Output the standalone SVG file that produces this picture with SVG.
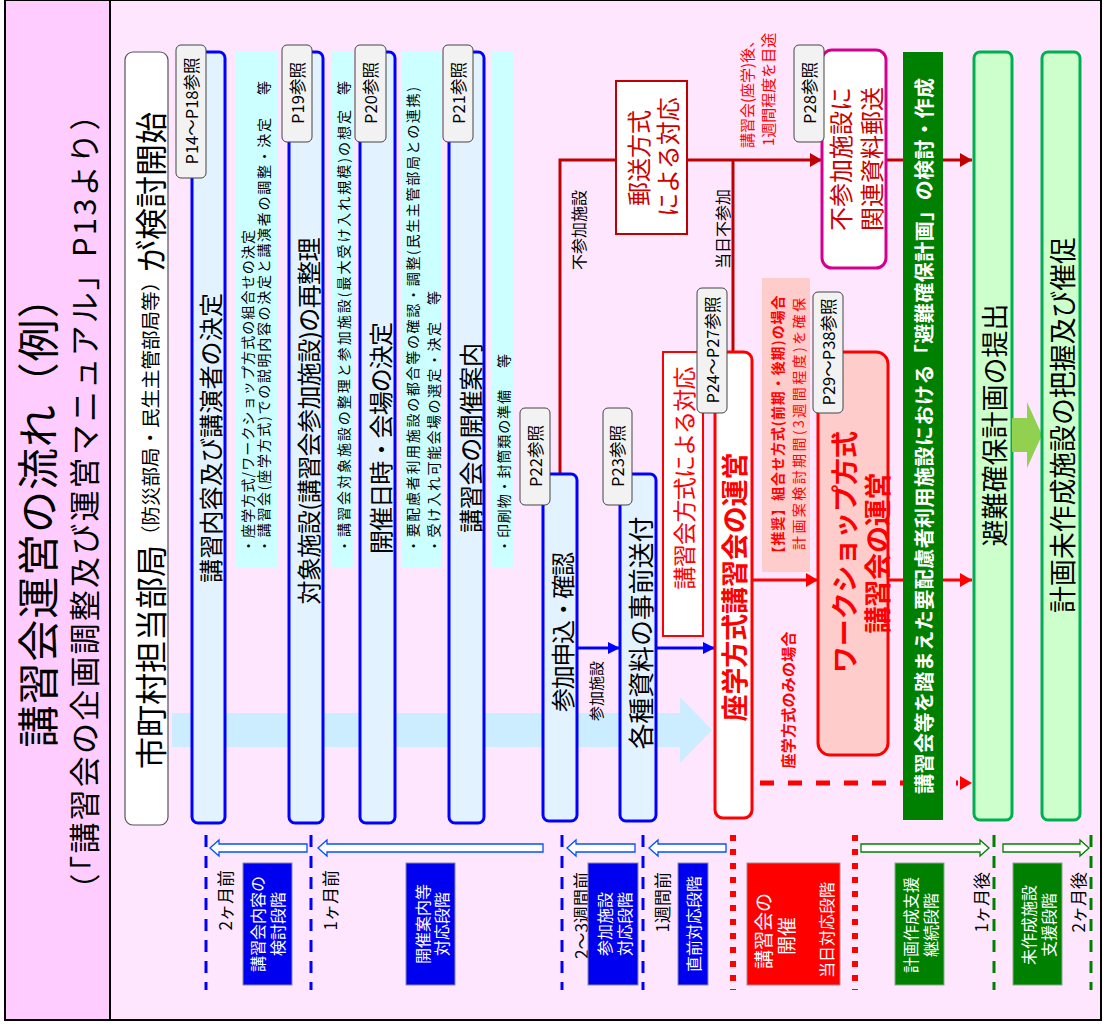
<svg xmlns="http://www.w3.org/2000/svg" width="1103" height="1033" viewBox="0 0 1103 1033">
<style>
.t{font-family:"Noto Sans CJK JP","Noto Sans",sans-serif;dominant-baseline:central;}
.m{text-anchor:middle}
.s{text-anchor:start}
.e{text-anchor:end}
.b{font-weight:bold}
.blue{fill:#E3F2FF;stroke:#0000FF;stroke-width:3}
.cyan{fill:#CCFFFF}
.tag{fill:#F2F2F2;stroke:#444;stroke-width:1}
.dr{stroke:#C00000;stroke-width:3;fill:none}
.rr{stroke:#FF0000;stroke-width:3;fill:none}
.bl{stroke:#0000FF;stroke-width:3;fill:none}
.pg{fill:#CCFFCC;stroke:#00B050;stroke-width:3}
.hb{fill:#fff;stroke:#0050FF;stroke-width:1.3}
.hg{fill:#fff;stroke:#008000;stroke-width:1.3}
.vb{stroke:#0000FF;stroke-width:3;stroke-dasharray:12 9}
.vg{stroke:#008000;stroke-width:3;stroke-dasharray:12 9}
.vr{stroke:#FF0000;stroke-width:6;stroke-dasharray:6 8}
</style>
<defs>
<marker id="aDR" viewBox="0 0 12 14" refX="12" refY="7" markerWidth="12" markerHeight="14" markerUnits="userSpaceOnUse" orient="auto"><path d="M0,0 L12,7 L0,14 z" fill="#C00000"/></marker>
<marker id="aR" viewBox="0 0 12 14" refX="12" refY="7" markerWidth="12" markerHeight="14" markerUnits="userSpaceOnUse" orient="auto"><path d="M0,0 L12,7 L0,14 z" fill="#FF0000"/></marker>
<marker id="aB" viewBox="0 0 12 12" refX="12" refY="6" markerWidth="12" markerHeight="12" markerUnits="userSpaceOnUse" orient="auto"><path d="M0,0 L12,6 L0,12 z" fill="#0000FF"/></marker>
</defs>

<g id="frame">
<rect x="5" y="0" width="1096" height="1020" fill="#FFE6FF" stroke="#000" stroke-width="2"/>
<rect x="5" y="0" width="105" height="1020" fill="#FFCCFF" stroke="#000" stroke-width="2"/>
</g>

<g id="title">
<text class="t m" font-size="42" textLength="471" transform="translate(35,512) rotate(-90)">講習会運営の流れ（例）</text>
<text class="t m" font-size="31" textLength="805" transform="translate(82,502) rotate(-90)">（「講習会の企画調整及び運営マニュアル」P13より）</text>
</g>

<g id="bigarrow">
<polygon points="172,713 680,713 680,697 712,730 680,763 680,747 172,747" fill="#CCECFF"/>
</g>

<g id="connectors">
<path class="dr" d="M560,474 V160 H616"/>
<line class="dr" x1="687" y1="160" x2="822" y2="160" marker-end="url(#aDR)"/>
<line class="dr" x1="733" y1="160" x2="733" y2="352"/>
<line class="dr" x1="886" y1="160" x2="972" y2="160" marker-end="url(#aDR)"/>
<line class="rr" x1="752" y1="580" x2="818" y2="580" marker-end="url(#aR)"/>
<line class="rr" x1="888" y1="580" x2="972" y2="580" marker-end="url(#aR)"/>
<line stroke="#FF0000" stroke-width="5" stroke-dasharray="14 14" x1="760" y1="783" x2="958" y2="783"/>
<polygon points="960,776 972,783 960,790" fill="#FF0000"/>
<line class="bl" x1="577" y1="648" x2="620" y2="648" marker-end="url(#aB)"/>
<line class="bl" x1="655" y1="648" x2="715" y2="648" marker-end="url(#aB)"/>
<text class="t m" font-size="16" transform="translate(578,230) rotate(-90)">不参加施設</text>
<text class="t m" font-size="16" transform="translate(722,229) rotate(-90)">当日不参加</text>
<text class="t m" font-size="15" transform="translate(595,691) rotate(-90)">参加施設</text>
<text class="t s" font-size="15" fill="#FF0000" transform="translate(746,148) rotate(-90)">講習会(座学)後、</text>
<text class="t s" font-size="15" fill="#FF0000" transform="translate(767,146) rotate(-90)">1週間程度を目途</text>
<text class="t m b" font-size="15" fill="#FF0000" textLength="137" transform="translate(787,700) rotate(-90)">座学方式のみの場合</text>
</g>

<g id="n-city">
<rect x="125" y="52" width="43" height="773" rx="8" fill="#fff" stroke="#555" stroke-width="1.2"/>
<text class="t s" transform="translate(149,769) rotate(-90)"><tspan font-size="32">市町村担当部局</tspan><tspan font-size="19.5">（防災部局・民生主管部局等）</tspan><tspan font-size="32">が検討開始</tspan></text>
</g>

<g id="n-content">
<rect class="blue" x="192" y="52" width="33" height="771" rx="6"/>
<text class="t m" font-size="24" textLength="290" transform="translate(209,438) rotate(-90)">講習内容及び講演者の決定</text>
<rect class="tag" x="176" y="45" width="30" height="133" rx="5"/>
<text class="t m" font-size="16.5" transform="translate(191,111) rotate(-90)">P14〜P18参照</text>
<rect class="cyan" x="236" y="52" width="41" height="515"/>
<text class="t s" font-size="14" textLength="323" transform="translate(247,553) rotate(-90)">・座学方式/ワークショップ方式の組合せの決定</text>
<text class="t s" font-size="14" textLength="435" transform="translate(263,553) rotate(-90)">・講習会(座学方式)での説明内容の決定と講演者の調整・決定</text>
<text class="t s" font-size="14" transform="translate(263,95) rotate(-90)">等</text>
</g>

<g id="n-facility">
<rect class="blue" x="289" y="52" width="34" height="771" rx="6"/>
<text class="t m" font-size="24" textLength="367" transform="translate(307,421) rotate(-90)">対象施設(講習会参加施設)の再整理</text>
<rect class="tag" x="282" y="45" width="30" height="97" rx="5"/>
<text class="t m" font-size="16.5" transform="translate(297,93) rotate(-90)">P19参照</text>
<rect class="cyan" x="332" y="52" width="21" height="515"/>
<text class="t s" font-size="14" textLength="443" transform="translate(343,553) rotate(-90)">・講習会対象施設の整理と参加施設(最大受け入れ規模)の想定</text>
<text class="t s" font-size="14" transform="translate(343,95) rotate(-90)">等</text>
</g>

<g id="n-date">
<rect class="blue" x="360" y="52" width="35" height="771" rx="6"/>
<text class="t m" font-size="24" textLength="232" transform="translate(379,438) rotate(-90)">開催日時・会場の決定</text>
<rect class="tag" x="355" y="45" width="31" height="97" rx="5"/>
<text class="t m" font-size="16.5" transform="translate(370,93) rotate(-90)">P20参照</text>
<rect class="cyan" x="402" y="52" width="40" height="515"/>
<text class="t s" font-size="14" textLength="466" transform="translate(412,553) rotate(-90)">・要配慮者利用施設の都合等の確認・調整(民生主管部局との連携)</text>
<text class="t s" font-size="14" textLength="231" transform="translate(433,553) rotate(-90)">・受け入れ可能会場の選定・決定</text>
<text class="t s" font-size="14" transform="translate(433,305) rotate(-90)">等</text>
</g>

<g id="n-guide">
<rect class="blue" x="449" y="52" width="35" height="771" rx="6"/>
<text class="t m" font-size="24" textLength="190" transform="translate(469,438) rotate(-90)">講習会の開催案内</text>
<rect class="tag" x="443" y="45" width="30" height="97" rx="5"/>
<text class="t m" font-size="16.5" transform="translate(458,93) rotate(-90)">P21参照</text>
<rect class="cyan" x="492" y="52" width="21" height="515"/>
<text class="t s" font-size="14" textLength="163" transform="translate(503,553) rotate(-90)">・印刷物・封筒類の準備</text>
<text class="t s" font-size="14" transform="translate(503,368) rotate(-90)">等</text>
</g>

<g id="n-apply">
<rect class="blue" x="543" y="474" width="34" height="347" rx="6"/>
<text class="t m" font-size="24" textLength="160" transform="translate(561,632) rotate(-90)">参加申込・確認</text>
<rect class="tag" x="520" y="408" width="30" height="97" rx="5"/>
<text class="t m" font-size="16.5" transform="translate(535,456) rotate(-90)">P22参照</text>
</g>

<g id="n-send">
<rect class="blue" x="620" y="474" width="36" height="347" rx="6"/>
<text class="t m" font-size="26" textLength="233" transform="translate(639,633) rotate(-90)">各種資料の事前送付</text>
<rect class="tag" x="603" y="408" width="29" height="97" rx="5"/>
<text class="t m" font-size="16.5" transform="translate(617,456) rotate(-90)">P23参照</text>
</g>

<g id="n-mail">
<rect x="616" y="81" width="71" height="153" fill="#fff" stroke="#C00000" stroke-width="2"/>
<text class="t m" font-size="24" fill="#CC0000" transform="translate(637,158) rotate(-90)">郵送方式</text>
<text class="t m" font-size="24" fill="#CC0000" transform="translate(666,157) rotate(-90)">による対応</text>
</g>

<g id="n-lecturemode">
<rect x="663" y="352" width="40" height="284" fill="#fff" stroke="#FF0000" stroke-width="2"/>
<text class="t m" font-size="23" fill="#FF0000" textLength="223" transform="translate(683,478) rotate(-90)">講習会方式による対応</text>
</g>

<g id="n-zagaku">
<rect x="715" y="352" width="37" height="466" rx="8" fill="#fff" stroke="#FF0000" stroke-width="3"/>
<text class="t m b" font-size="27" fill="#FF0000" textLength="269" transform="translate(733,587) rotate(-90)">座学方式講習会の運営</text>
<rect class="tag" x="697" y="288" width="30" height="125" rx="5"/>
<text class="t m" font-size="16.5" transform="translate(712,350) rotate(-90)">P24〜P27参照</text>
</g>

<g id="n-recommend">
<rect x="762" y="278" width="48" height="294" fill="#FFCCCC"/>
<text class="t m b" font-size="14" fill="#FF0000" textLength="265" transform="translate(777,428) rotate(-90)">【推奨】組合せ方式(前期・後期)の場合</text>
<text class="t m" font-size="14" fill="#FF0000" textLength="252" transform="translate(798,424) rotate(-90)">計画案検討期間(3週間程度)を確保</text>
</g>

<g id="n-workshop">
<rect x="818" y="352" width="70" height="403" rx="12" fill="#FFCCCC" stroke="#FF0000" stroke-width="3"/>
<text class="t m b" font-size="27" fill="#FF0000" textLength="242" transform="translate(843,552) rotate(-90)">ワークショップ方式</text>
<text class="t m b" font-size="27" fill="#FF0000" textLength="161" transform="translate(876,553) rotate(-90)">講習会の運営</text>
<rect class="tag" x="813" y="292" width="30" height="121" rx="5"/>
<text class="t m" font-size="16.5" transform="translate(828,352) rotate(-90)">P29〜P38参照</text>
</g>

<g id="n-absent">
<rect x="822" y="50" width="64" height="218" rx="10" fill="#fff" stroke="#D4008F" stroke-width="3"/>
<text class="t m" font-size="24" fill="#CC0000" transform="translate(839,159) rotate(-90)">不参加施設に</text>
<text class="t m" font-size="24" fill="#CC0000" transform="translate(870,159) rotate(-90)">関連資料郵送</text>
<rect class="tag" x="794" y="45" width="30" height="97" rx="5"/>
<text class="t m" font-size="16.5" transform="translate(809,93) rotate(-90)">P28参照</text>
</g>

<g id="n-plan">
<rect x="903" y="52" width="40" height="768" fill="#008000"/>
<text class="t m b" font-size="20" fill="#fff" textLength="716" transform="translate(923,436) rotate(-90)">講習会等を踏まえた要配慮者利用施設における「避難確保計画」の検討・作成</text>
</g>

<g id="n-submit">
<rect class="pg" x="974" y="52" width="38" height="768" rx="6"/>
<text class="t m" font-size="27" textLength="243" transform="translate(993,425) rotate(-90)">避難確保計画の提出</text>
</g>

<g id="greenarrow">
<polygon points="1012,418 1027,418 1027,402 1042,435 1027,468 1027,452 1012,452" fill="#92D050"/>
</g>

<g id="n-urge">
<rect class="pg" x="1042" y="52" width="38" height="768" rx="6"/>
<text class="t m" font-size="27" textLength="376" transform="translate(1061,425) rotate(-90)">計画未作成施設の把握及び催促</text>
</g>

<g id="timeline">
<line class="vb" x1="206" y1="835" x2="206" y2="990"/>
<line class="vb" x1="311" y1="835" x2="311" y2="990"/>
<line class="vb" x1="562" y1="835" x2="562" y2="990"/>
<line class="vb" x1="643" y1="835" x2="643" y2="990"/>
<line class="vr" x1="733" y1="835" x2="733" y2="990"/>
<line class="vr" x1="855" y1="835" x2="855" y2="990"/>
<line class="vg" x1="994" y1="835" x2="994" y2="990"/>
<line class="vg" x1="1091" y1="835" x2="1091" y2="990"/>
<path class="hb" d="M210,848 L219,840 L219,844 L307,844 L307,852 L219,852 L219,856 Z"/>
<path class="hb" d="M318,848 L327,840 L327,844 L543,844 L543,852 L327,852 L327,856 Z"/>
<path class="hb" d="M567,848 L576,840 L576,844 L635,844 L635,852 L576,852 L576,856 Z"/>
<path class="hb" d="M649,848 L658,840 L658,844 L726,844 L726,852 L658,852 L658,856 Z"/>
<path class="hg" d="M989,848 L980,840 L980,844 L861,844 L861,852 L980,852 L980,856 Z"/>
<path class="hg" d="M1089,848 L1080,840 L1080,844 L1003,844 L1003,852 L1080,852 L1080,856 Z"/>
<text class="t e" font-size="17" transform="translate(224,870) rotate(-90)">2ヶ月前</text>
<text class="t e" font-size="17" transform="translate(329,870) rotate(-90)">1ヶ月前</text>
<text class="t e" font-size="17" transform="translate(580,872) rotate(-90)">2〜3週間前</text>
<text class="t e" font-size="17" transform="translate(661,872) rotate(-90)">1週間前</text>
<text class="t e" font-size="17" transform="translate(980,872) rotate(-90)">1ヶ月後</text>
<text class="t e" font-size="17" transform="translate(1077,872) rotate(-90)">2ヶ月後</text>
<g id="s-study">
<rect x="243" y="863" width="49" height="122" fill="#0000F0" stroke="#8888AA" stroke-width="1"/>
<text class="t m" font-size="16" fill="#fff" transform="translate(257,924) rotate(-90)">講習会内容の</text>
<text class="t m" font-size="16" fill="#fff" transform="translate(277,924) rotate(-90)">検討段階</text>
</g>
<g id="s-guide">
<rect x="406" y="863" width="49" height="122" fill="#0000F0" stroke="#8888AA" stroke-width="1"/>
<text class="t m" font-size="16" fill="#fff" transform="translate(422,924) rotate(-90)">開催案内等</text>
<text class="t m" font-size="16" fill="#fff" transform="translate(441,924) rotate(-90)">対応段階</text>
</g>
<g id="s-join">
<rect x="588" y="863" width="50" height="122" fill="#0000F0" stroke="#8888AA" stroke-width="1"/>
<text class="t m" font-size="16" fill="#fff" transform="translate(604,924) rotate(-90)">参加施設</text>
<text class="t m" font-size="16" fill="#fff" transform="translate(624,924) rotate(-90)">対応段階</text>
</g>
<g id="s-before">
<rect x="678" y="863" width="30" height="122" fill="#0000F0" stroke="#8888AA" stroke-width="1"/>
<text class="t m" font-size="16" fill="#fff" transform="translate(693,924) rotate(-90)">直前対応段階</text>
</g>
<g id="s-day">
<rect x="747" y="863" width="93" height="122" fill="#FF0000" stroke="#AA8888" stroke-width="1"/>
<text class="t m" font-size="19" fill="#fff" transform="translate(762,931) rotate(-90)">講習会の</text>
<text class="t m" font-size="19" fill="#fff" transform="translate(785,936) rotate(-90)">開催</text>
<text class="t m" font-size="16" fill="#fff" transform="translate(826,930) rotate(-90)">当日対応段階</text>
</g>
<g id="s-support">
<rect x="895" y="863" width="49" height="122" fill="#008000" stroke="#88AA88" stroke-width="1"/>
<text class="t m" font-size="16" fill="#fff" transform="translate(910,925) rotate(-90)">計画作成支援</text>
<text class="t m" font-size="16" fill="#fff" transform="translate(930,925) rotate(-90)">継続段階</text>
</g>
<g id="s-unmade">
<rect x="1013" y="863" width="49" height="122" fill="#008000" stroke="#88AA88" stroke-width="1"/>
<text class="t m" font-size="16" fill="#fff" transform="translate(1028,925) rotate(-90)">未作成施設</text>
<text class="t m" font-size="16" fill="#fff" transform="translate(1048,925) rotate(-90)">支援段階</text>
</g>
</g>
</svg>
